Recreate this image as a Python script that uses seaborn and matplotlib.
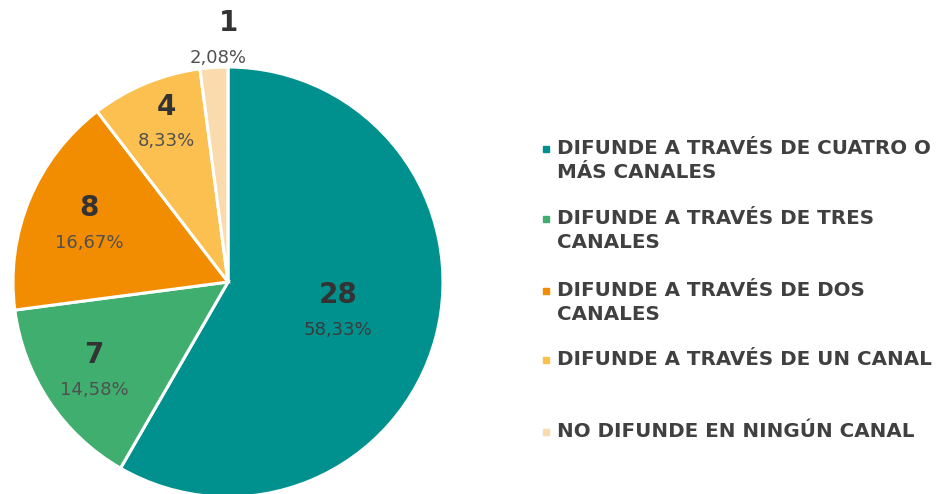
import numpy as np
import matplotlib
matplotlib.use("Agg")
import matplotlib.pyplot as plt
import seaborn as sns
from matplotlib.patches import Rectangle

# data
categories = [
    "DIFUNDE A TRAVÉS DE CUATRO O\nMÁS CANALES",
    "DIFUNDE A TRAVÉS DE TRES\nCANALES",
    "DIFUNDE A TRAVÉS DE DOS\nCANALES",
    "DIFUNDE A TRAVÉS DE UN CANAL",
    "NO DIFUNDE EN NINGÚN CANAL",
]
counts = [28, 7, 8, 4, 1]
colors = ["#00918F", "#3FAE6F", "#F28C00", "#FBC050", "#F9DBAE"]

sns.set_style("white")
plt.rcParams["font.family"] = ["DejaVu Sans"]

fig = plt.figure(figsize=(9.46, 4.94), dpi=100)
ax = fig.add_axes([13 / 946, -3 / 494, 430 / 946, 430 / 494])

wedges, _ = ax.pie(counts, colors=colors, startangle=90, counterclock=False,
                   radius=1, wedgeprops=dict(edgecolor="white", linewidth=2.2))
ax.set_xlim(-1, 1)
ax.set_ylim(-1, 1)
ax.set_aspect("equal")
ax.axis("off")

# label placement per wedge (distance from centre, x nudges for number / pct)
label_r = [0.53, 0.75, 0.70, 0.80, 1.13]
num_dx = [0, 0, 0, 0.02, 0.075]
pct_dx = [0, 0, 0, 0.02, 0.03]
total = sum(counts)
for w, n, r, dn, dp in zip(wedges, counts, label_r, num_dx, pct_dx):
    ang = np.deg2rad((w.theta1 + w.theta2) / 2)
    x, y = r * np.cos(ang), r * np.sin(ang)
    pct = f"{100 * n / total:.2f}%".replace(".", ",")
    ax.text(x + dn, y + 0.075, str(n), ha="center", va="center", fontsize=20,
            fontweight="bold", color="#333333", clip_on=False)
    ax.text(x + dp, y - 0.085, pct, ha="center", va="center", fontsize=13,
            color="#3a3a3a" if n == 28 else "#505050", clip_on=False)

# legend drawn manually (uneven spacing in the original)
leg_y = [149, 219, 291, 360, 432]
for lab, c, yy in zip(categories, colors, leg_y):
    fy = 1 - yy / 494
    fig.patches.append(Rectangle((543 / 946, fy - 3 / 494), 6 / 946, 6 / 494,
                                 transform=fig.transFigure, color=c))
    fig.text(557 / 946, fy + 10 / 494, lab, ha="left", va="top", fontsize=14.3,
             fontweight="bold", color="#404040", linespacing=1.3,
             transform=fig.transFigure)

fig.savefig("out.png", dpi=100)
